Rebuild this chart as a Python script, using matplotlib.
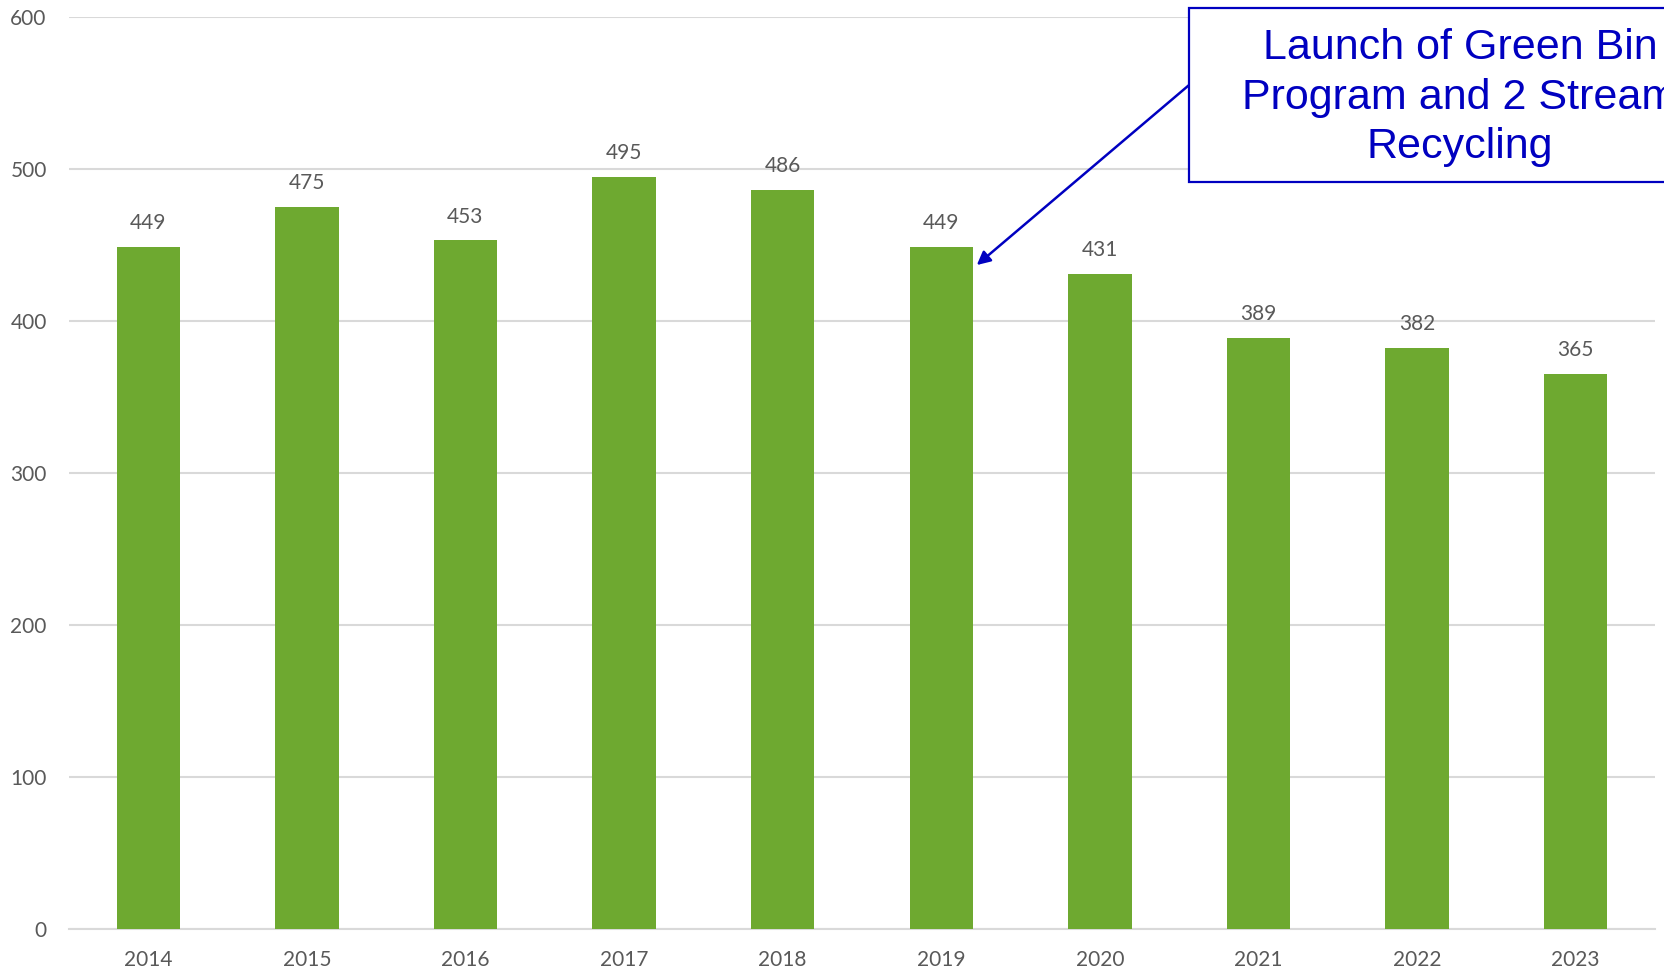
import matplotlib
matplotlib.use("Agg")
from matplotlib import pyplot as plt
from matplotlib.patches import Rectangle

years = ["2014", "2015", "2016", "2017", "2018", "2019", "2020", "2021", "2022", "2023"]
tonnes = [449, 475, 453, 495, 486, 449, 431, 389, 382, 365]
y_ticks = [0, 100, 200, 300, 400, 500, 600]
note = "Launch of Green Bin\nProgram and 2 Stream\nRecycling"

bar_color = "#6EA930"
grid_color = "#D9D9D9"
label_color = "#595959"
note_color = "#0000C0"
tick_font = ["Lato", "DejaVu Sans"]

fig = plt.figure(figsize=(16.65, 9.71), dpi=100)
ax = fig.add_axes([0.0414, 0.0433, 0.9526, 0.9392])

x = list(range(len(years)))
bars = ax.bar(x, tonnes, width=0.4, color=bar_color, linewidth=0, zorder=3)

for xi, v in zip(x, tonnes):
    ax.annotate(str(v), (xi, v), xytext=(0, 10), textcoords="offset points",
                ha="center", va="bottom", fontsize=15, color=label_color,
                family=tick_font)

ax.set_xlim(-0.5, len(years) - 0.5)
ax.set_ylim(0, 600)
ax.set_yticks(y_ticks)
ax.set_xticks(x)
ax.set_xticklabels(years)
ax.yaxis.grid(True, color=grid_color, linewidth=1.5, zorder=0)
ax.tick_params(length=0, labelsize=15, labelcolor=label_color)
ax.tick_params(axis="y", pad=16)
ax.tick_params(axis="x", pad=15)
for lbl in ax.get_xticklabels() + ax.get_yticklabels():
    lbl.set_family(tick_font)
for s in ["top", "right", "left"]:
    ax.spines[s].set_visible(False)
ax.spines["bottom"].set_color(grid_color)
ax.spines["bottom"].set_linewidth(1.5)

# callout box, runs off the right edge like the original slide
box = Rectangle((6.563, 491.4), 3.2, 114.5, facecolor="white",
                edgecolor=note_color, linewidth=1.6, clip_on=False, zorder=5)
ax.add_patch(box)
ax.text(8.27, 547, note, ha="center", va="center", fontsize=31,
        color=note_color, family=["Liberation Sans", "DejaVu Sans"],
        linespacing=1.32, zorder=6, clip_on=False)
ax.annotate("", xy=(5.224, 436.8), xytext=(6.563, 555.3),
            arrowprops=dict(arrowstyle="-|>", color=note_color, lw=1.8,
                            mutation_scale=20, shrinkA=0, shrinkB=0),
            zorder=4, annotation_clip=False)

fig.savefig("out.png", dpi=100)
